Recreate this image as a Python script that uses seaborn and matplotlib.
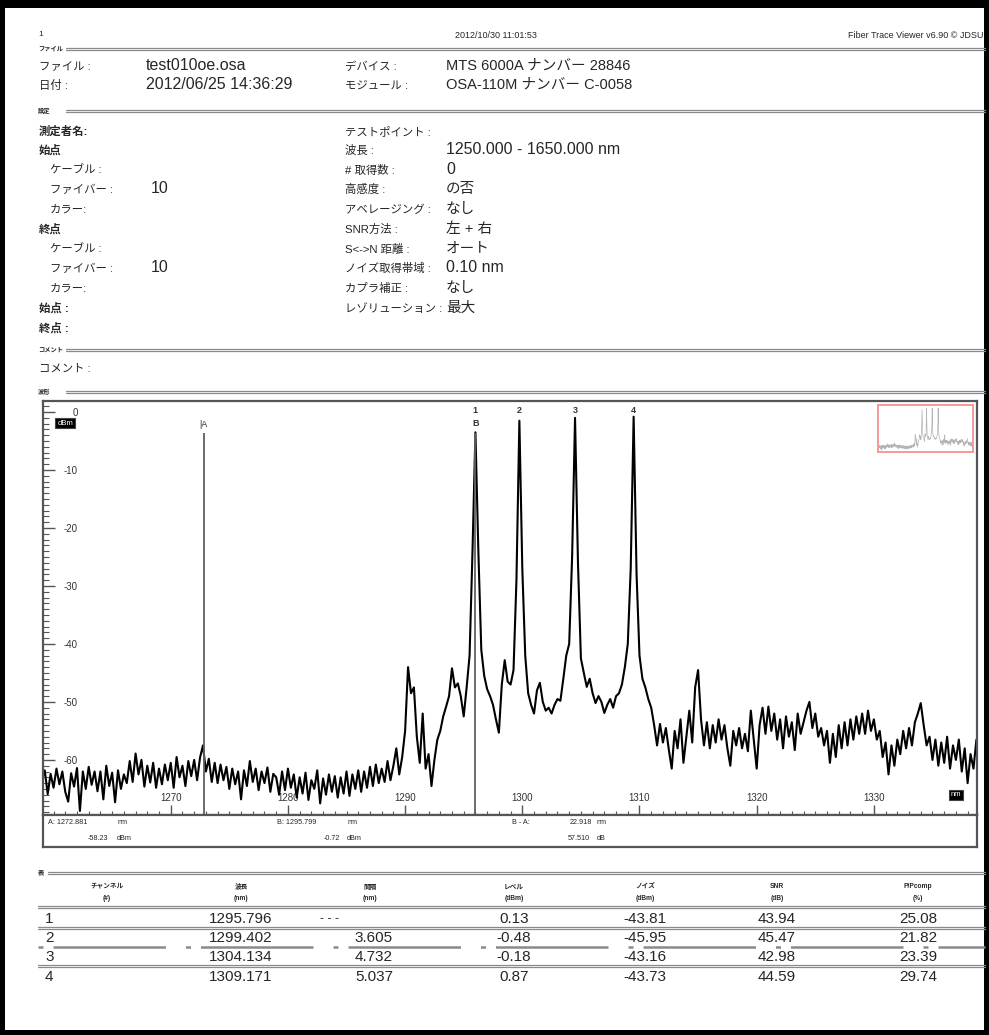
import matplotlib.pyplot as plt
import numpy as np
import pandas as pd
import seaborn as sns
from matplotlib.lines import Line2D
from matplotlib.patches import Rectangle

W, H = 989, 1035

# --- trace, 0.25 nm steps from 1259.00 nm, one list per 5 nm ---
trace_start = 1259.0
trace_step = 0.25
level_1259 = [-63.5, -61.8, -65.9, -62.4, -64.8, -61.5, -64.2, -62.0, -65.5, -67.2,
              -62.3, -64.6, -61.4, -68.8, -62.0, -65.0, -61.2, -64.3, -62.0, -65.4]
level_1264 = [-62.0, -66.8, -61.0, -64.5, -62.2, -67.3, -61.8, -65.0, -62.5, -64.0,
              -60.2, -63.8, -58.9, -62.5, -60.0, -64.6, -61.0, -63.9, -60.5, -64.8]
level_1269 = [-61.5, -64.2, -60.8, -63.5, -60.5, -64.8, -59.5, -63.0, -61.0, -64.5,
              -60.2, -62.8, -60.0, -63.5, -59.6, -57.5, -62.0, -59.8, -63.8, -60.5]
level_1274 = [-64.0, -60.8, -63.5, -61.2, -65.0, -61.5, -64.2, -62.0, -66.8, -61.8,
              -64.5, -60.2, -63.8, -61.5, -65.2, -62.0, -64.0, -61.3, -65.5, -62.4]
level_1279 = [-63.0, -66.0, -62.0, -65.2, -61.5, -64.8, -62.5, -66.5, -63.0, -65.8,
              -62.2, -66.9, -63.5, -65.0, -61.8, -67.5, -63.2, -66.0, -62.5, -65.5]
level_1284 = [-62.8, -66.5, -63.0, -65.8, -62.0, -66.2, -62.5, -65.0, -61.8, -65.5,
              -62.0, -64.8, -61.2, -64.5, -60.8, -64.0, -61.5, -63.8, -60.2, -63.5]
level_1289 = [-61.0, -58.0, -62.5, -59.5, -55.0, -44.0, -48.5, -47.5, -56.0, -60.5,
              -52.0, -61.5, -59.0, -64.5, -60.0, -56.5, -55.0, -52.5, -50.8, -49.0]
level_1294 = [-44.2, -47.5, -46.8, -49.0, -52.5, -47.5, -42.0, -24.0, -3.5, -24.0,
              -41.0, -45.5, -47.8, -49.0, -50.5, -53.0, -55.3, -47.0, -42.8, -46.5]
level_1299 = [-47.0, -44.5, -29.0, -1.5, -27.0, -42.0, -48.5, -50.5, -52.0, -48.0,
              -46.7, -50.0, -51.5, -51.0, -52.0, -50.5, -49.5, -49.8, -46.0, -42.0]
level_1304 = [-40.0, -25.0, -1.0, -26.0, -42.5, -45.0, -47.4, -46.0, -48.5, -50.2,
              -49.0, -50.0, -51.9, -50.5, -49.5, -51.0, -49.0, -48.5, -47.0, -44.0]
level_1309 = [-40.0, -27.0, -0.8, -28.0, -42.0, -46.0, -47.5, -49.5, -51.0, -54.0,
              -57.5, -53.8, -57.0, -54.5, -58.2, -61.5, -55.0, -58.0, -53.0, -60.5]
level_1314 = [-56.0, -51.5, -57.0, -47.5, -44.5, -53.0, -57.5, -53.5, -58.0, -54.0,
              -57.0, -53.0, -56.5, -54.0, -58.0, -61.0, -55.0, -57.5, -54.5, -58.0]
level_1319 = [-55.5, -58.5, -51.5, -56.5, -61.5, -54.0, -51.0, -55.5, -50.8, -55.0,
              -52.0, -56.5, -53.0, -58.0, -52.5, -56.0, -53.5, -58.3, -52.0, -55.5]
level_1324 = [-53.5, -51.5, -50.0, -54.5, -52.0, -56.0, -54.5, -57.5, -55.0, -60.5,
              -55.5, -59.5, -54.0, -58.0, -53.5, -57.5, -53.0, -56.5, -52.5, -55.5]
level_1329 = [-52.0, -55.5, -51.5, -55.0, -53.0, -56.5, -55.0, -59.5, -57.0, -62.5,
              -57.5, -61.0, -56.5, -59.0, -55.0, -58.0, -54.5, -57.5, -53.5, -52.0]
level_1334 = [-50.2, -54.0, -57.5, -56.0, -60.0, -56.5, -61.0, -57.0, -60.5, -56.0,
              -61.5, -57.5, -60.0, -56.5, -62.0, -58.0, -64.0, -59.0, -61.5, -56.5]

levels = (level_1259 + level_1264 + level_1269 + level_1274 + level_1279 + level_1284
          + level_1289 + level_1294 + level_1299 + level_1304 + level_1309 + level_1314
          + level_1319 + level_1324 + level_1329 + level_1334)
wavelength = trace_start + trace_step * np.arange(len(levels))
df = pd.DataFrame({"wl": wavelength, "dbm": levels})

# markers (where they sit on the trace) and cursor readout
peak_names = ["1", "2", "3", "4"]
peak_x = [1296.0, 1299.75, 1304.5, 1309.5]
cursor_a_x = 1272.8
cursor_b_x = 1296.0

# table
ch = ["1", "2", "3", "4"]
tbl_wl = ["1295.796", "1299.402", "1304.134", "1309.171"]
tbl_gap = ["- - -", "3.605", "4.732", "5.037"]
tbl_level = ["0.13", "-0.48", "-0.18", "0.87"]
tbl_noise = ["-43.81", "-45.95", "-43.16", "-43.73"]
tbl_snr = ["43.94", "45.47", "42.98", "44.59"]
tbl_pp = ["25.08", "21.82", "23.39", "29.74"]

sns.set_style("white")
plt.rcParams["font.family"] = ["Liberation Sans", "Noto Sans CJK JP"]
plt.rcParams["axes.unicode_minus"] = False

fig = plt.figure(figsize=(W / 100, H / 100), dpi=100)
fig.patch.set_facecolor("white")

JP = 8.2    # japanese labels
VAL = 11.5  # latin values
MIX = 10.5  # values with kana


def P(x, y):
    return x / W, 1 - y / H


def txt(x, y, s, size=JP, **kw):
    fig.text(*P(x, y), s, fontsize=size, va="center", **kw)


def row(x, y, s, size=JP, **kw):
    # y is the visual middle of the row; put everything on one baseline
    fig.text(*P(x, y + 5), s, fontsize=size, va="baseline", **kw)


def section(label, y, x0=66, x1=985):
    txt(38, y, label, size=4.5, weight="bold")
    for dy in (-1.3, 1.3):
        fig.add_artist(Line2D([x0 / W, x1 / W], [1 - (y + dy) / H] * 2,
                              color="#8a8a8a", lw=0.9))


def hline(y, x0=38, x1=985, **kw):
    for dy in (-1.3, 1.3):
        fig.add_artist(Line2D([x0 / W, x1 / W], [1 - (y + dy) / H] * 2,
                              color="#8a8a8a", lw=0.9, **kw))


# black frame of the scan
for r in [(0, 0, W, 8), (0, 0, 5, H), (W - 5, 0, 5, H), (0, H - 5, W, 5)]:
    x, y, w, h = r
    fig.add_artist(Rectangle((x / W, 1 - (y + h) / H), w / W, h / H,
                             transform=fig.transFigure, color="black", lw=0))

# header
txt(38, 35, "1", size=6)
txt(455, 35, "2012/10/30 11:01:53", size=6.5)
txt(984, 35, "Fiber Trace Viewer v6.90 © JDSU", size=6.5, ha="right")

LX, VX = 345, 446

section("ファイル", 49)
row(39, 65, "ファイル :")
row(146, 65, "test010oe.osa", size=VAL)
row(LX, 65, "デバイス :")
row(VX, 65, "MTS 6000A ナンバー 28846", size=MIX)
row(39, 84, "日付 :")
row(146, 84, "2012/06/25 14:36:29", size=VAL)
row(LX, 84, "モジュール :")
row(VX, 84, "OSA-110M ナンバー C-0058", size=MIX)

section("設定", 111)
left_rows = [("測定者名:", 130, 39, "bold"), ("始点", 149, 39, "bold"),
             ("ケーブル :", 169, 50, "normal"), ("ファイバー :", 188, 50, "normal"),
             ("カラー:", 208, 50, "normal"), ("終点", 228, 39, "bold"),
             ("ケーブル :", 248, 50, "normal"), ("ファイバー :", 267, 50, "normal"),
             ("カラー:", 287, 50, "normal"), ("始点 :", 307, 39, "bold"),
             ("終点 :", 327, 39, "bold")]
for s, y, x, wgt in left_rows:
    row(x, y, s, weight=wgt)
row(151, 188, "10", size=VAL)
row(151, 267, "10", size=VAL)

right_labels = ["テストポイント :", "波長 :", "# 取得数 :", "高感度 :", "アベレージング :",
                "SNR方法 :", "S<->N 距離 :", "ノイズ取得帯域 :", "カプラ補正 :",
                "レゾリューション :"]
right_values = ["", "1250.000 - 1650.000 nm", "0", "の否", "なし", "左 + 右",
                "オート", "0.10 nm", "なし", "最大"]
right_y = [130, 149, 169, 188, 208, 228, 248, 267, 287, 307]
for lab, val, y in zip(right_labels, right_values, right_y):
    row(LX, y, lab)
    latin = all(ord(c) < 128 for c in val)
    row(VX, y, val, size=VAL if latin else MIX)

section("コメント", 350)
row(39, 367, "コメント :")

section("波形", 392)

# --- spectrum ---
ax = fig.add_axes([43 / W, 1 - 815 / H, (977 - 43) / W, (815 - 401) / H])
sns.lineplot(data=df, x="wl", y="dbm", ax=ax, color="black", linewidth=1.5,
             estimator=None, sort=False)
ax.set_xlim(1259.1, 1338.8)
ax.set_ylim(-69.5, 1.9)
ax.set_xlabel("")
ax.set_ylabel("")
for sp in ax.spines.values():
    sp.set_color("#555555")
    sp.set_linewidth(1.6)

ax.set_yticks([0, -10, -20, -30, -40, -50, -60])
ax.set_yticks(np.arange(-69, 2, 1), minor=True)
ax.set_xticks([1270, 1280, 1290, 1300, 1310, 1320, 1330])
ax.set_xticks(np.arange(1260, 1339, 1), minor=True)
ax.tick_params(axis="y", which="major", direction="in", length=8.5, width=1,
               color="#555555", labelsize=7, labelcolor="#333333", pad=-25, left=True)
ax.tick_params(axis="y", which="minor", direction="in", length=4.3, width=0.8,
               color="#555555", left=True)
ax.tick_params(axis="x", which="major", direction="in", length=7, width=1,
               color="#555555", labelsize=7, labelcolor="#333333", pad=-15.5, bottom=True)
ax.tick_params(axis="x", which="minor", direction="in", length=2.8, width=0.8,
               color="#555555", bottom=True)
for t in ax.get_yticklabels():
    t.set_horizontalalignment("right")

# cursors and markers
ax.vlines([cursor_a_x, cursor_b_x], -69.5, -3.6, color="#606060", lw=1.3)
ax.text(cursor_a_x, -2.2, "|A", ha="center", va="center", fontsize=6.5, color="#333333")
ax.text(cursor_b_x, -2.0, "B", ha="center", va="center", fontsize=6.5, color="#333333",
        weight="bold")
for name, x in zip(peak_names, peak_x):
    ax.text(x, 0.3, name, ha="center", va="center", fontsize=6.5, color="#333333",
            weight="bold")

txt(65, 423, "dBm", size=5.5, color="white", ha="center",
    bbox=dict(boxstyle="square,pad=0.25", fc="black", ec="#444444", lw=0.8))
txt(956, 795, "nm", size=5.5, color="white", ha="center",
    bbox=dict(boxstyle="square,pad=0.25", fc="black", ec="#444444", lw=0.8))

# overview thumbnail
axi = fig.add_axes([878 / W, 1 - 452 / H, 95 / W, 47 / H])
sns.lineplot(data=df, x="wl", y="dbm", ax=axi, color="#b5b5b5", linewidth=0.5,
             estimator=None, sort=False)
axi.set_xlim(wavelength[0], wavelength[-1])
axi.set_ylim(-72, 4)
axi.set_xticks([])
axi.set_yticks([])
axi.set_xlabel("")
axi.set_ylabel("")
for sp in axi.spines.values():
    sp.set_color("#f29a9a")
    sp.set_linewidth(1.4)

# cursor readout box
axb = fig.add_axes([43 / W, 1 - 847 / H, (977 - 43) / W, 32 / H])
axb.set_xticks([])
axb.set_yticks([])
for sp in axb.spines.values():
    sp.set_color("#555555")
    sp.set_linewidth(1.6)
small = 5.2
txt(48, 822, "A: 1272.881", size=small)
txt(118, 822, "nm", size=small)
txt(108, 838, "-58.23", size=small, ha="right")
txt(117, 838, "dBm", size=small)
txt(277, 822, "B: 1295.799", size=small)
txt(348, 822, "nm", size=small)
txt(340, 838, "-0.72", size=small, ha="right")
txt(347, 838, "dBm", size=small)
txt(512, 822, "B - A:", size=small)
txt(592, 822, "22.918", size=small, ha="right")
txt(597, 822, "nm", size=small)
txt(590, 838, "57.510", size=small, ha="right")
txt(597, 838, "dB", size=small)

# --- table ---
section("表", 873, x0=48)
col_x = [107, 241, 370, 514, 645, 777, 918]
col_names = ["チャンネル", "波長", "間隔", "レベル", "ノイズ", "SNR", "P/Pcomp"]
col_units = ["(#)", "(nm)", "(nm)", "(dBm)", "(dBm)", "(dB)", "(%)"]
for x, n, u in zip(col_x, col_names, col_units):
    txt(x, 887, n, size=4.8, ha="center", weight="bold")
    txt(x, 898, u, size=4.8, ha="center", weight="bold")
hline(907)
row_y = [919, 938, 957, 977]
for i, y in enumerate(row_y):
    txt(45, y, ch[i], size=11, ha="left")
    txt(col_x[1], y, tbl_wl[i], size=11, ha="center")
    if i == 0:
        txt(330, y, tbl_gap[i], size=9, ha="center")
    else:
        txt(col_x[2] + 4, y, tbl_gap[i], size=11, ha="center")
    txt(col_x[3], y, tbl_level[i], size=11, ha="center")
    txt(col_x[4], y, tbl_noise[i], size=11, ha="center")
    txt(col_x[5], y, tbl_snr[i], size=11, ha="center")
    txt(col_x[6], y, tbl_pp[i], size=11, ha="center")
hline(928)
fig.add_artist(Line2D([38 / W, 985 / W], [1 - 947 / H] * 2, color="#8a8a8a", lw=1.8,
                      linestyle=(0, (2, 4, 45, 8))))
hline(966)

fig.savefig("out.png", dpi=100)
